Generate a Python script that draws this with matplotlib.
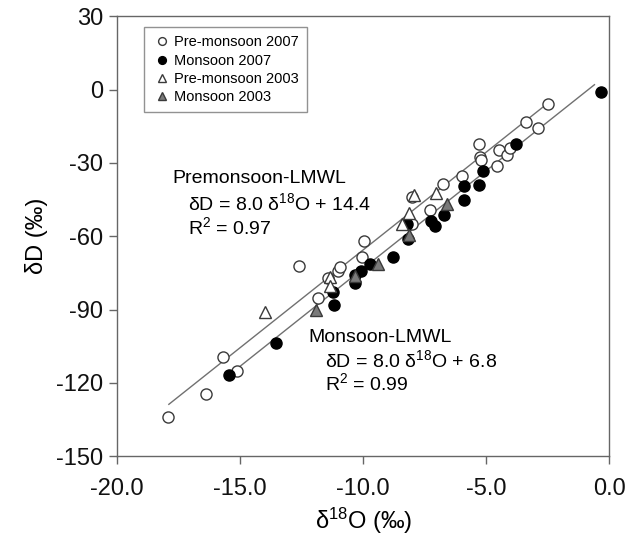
import matplotlib
matplotlib.use("Agg")
import matplotlib.pyplot as plt
import numpy as np

plt.rcParams['font.family'] = ['Liberation Sans', 'DejaVu Sans']
plt.rcParams['axes.unicode_minus'] = False

# Pre-monsoon 2007 (open circles)
pre07_x = [-17.94, -16.38, -15.68, -15.11, -12.60, -11.82, -11.44, -11.04, -10.93, -10.04,
           -9.95, -8.02, -8.02, -7.30, -6.76, -5.99, -5.28, -5.27, -5.22, -4.57,
           -4.47, -4.16, -4.02, -3.37, -2.91, -2.48]
pre07_y = [-134.0, -124.4, -109.4, -115.1, -72.2, -85.3, -77.1, -74.2, -72.8, -68.7,
           -62.1, -55.1, -43.9, -49.4, -38.7, -35.5, -22.4, -27.6, -28.9, -31.4,
           -24.8, -26.9, -24.1, -13.2, -15.7, -5.7]

# Monsoon 2007 (filled circles)
mon07_x = [-15.45, -13.54, -11.23, -11.20, -10.33, -10.33, -10.09, -9.72, -8.79, -8.16,
           -8.22, -7.25, -7.07, -6.71, -5.92, -5.92, -5.31, -5.15, -3.78, -0.35]
mon07_y = [-117.0, -103.7, -82.8, -88.2, -76.0, -79.1, -74.2, -71.2, -68.7, -61.0,
           -55.1, -53.8, -55.9, -51.5, -45.0, -39.5, -38.9, -33.3, -22.4, -1.0]

# Pre-monsoon 2003 (open triangles)
pre03_x = [-14.01, -11.34, -11.34, -8.43, -8.12, -7.95, -7.03]
pre03_y = [-91.0, -76.6, -80.5, -55.1, -50.3, -43.0, -42.2]

# Monsoon 2003 (grey triangles)
mon03_x = [-11.91, -10.33, -9.38, -8.12, -6.60]
mon03_y = [-90.0, -76.4, -71.2, -59.6, -46.8]

# LMWL fits: slope, intercept, x range
pre_fit = (8.0, 14.4)
pre_range = [-17.9, -2.6]
mon_fit = (8.0, 6.8)
mon_range = [-15.6, -0.6]

fig = plt.figure(figsize=(6.3, 5.43), dpi=100)
ax = fig.add_axes([0.186, 0.160, 0.781, 0.810])

line_c = '#707070'
for (m, b), xr in [(pre_fit, pre_range), (mon_fit, mon_range)]:
    xs = np.array(xr)
    ax.plot(xs, m * xs + b, color=line_c, lw=1.0, zorder=1)

edge = '#3a3a3a'
ms = 8
ax.plot(pre07_x, pre07_y, 'o', ms=ms, mfc='white', mec=edge, mew=1.0, ls='none',
        label='Pre-monsoon 2007', zorder=3)
ax.plot(mon07_x, mon07_y, 'o', ms=ms, mfc='black', mec='black', mew=1.0, ls='none',
        label='Monsoon 2007', zorder=3)
ax.plot(pre03_x, pre03_y, '^', ms=ms, mfc='white', mec=edge, mew=1.0, ls='none',
        label='Pre-monsoon 2003', zorder=3)
ax.plot(mon03_x, mon03_y, '^', ms=ms, mfc='#7a7a7a', mec=edge, mew=1.0, ls='none',
        label='Monsoon 2003', zorder=3)

ax.set_xlim(-20, 0)
ax.set_ylim(-150, 30)
ax.set_xticks([-20, -15, -10, -5, 0])
ax.set_xticklabels(['-20.0', '-15.0', '-10.0', '-5.0', '0.0'])
ax.set_yticks([-150, -120, -90, -60, -30, 0, 30])

for s in ax.spines.values():
    s.set_color('#666666')
    s.set_linewidth(1.0)
ax.tick_params(direction='out', length=6, width=1, color='#666666',
               labelsize=17, labelcolor='#111111', pad=4)
ax.tick_params(axis='x', pad=10)

ax.set_ylabel('δD (‰)', fontsize=17, labelpad=6)
ax.set_xlabel(r'δ$\mathregular{^{18}}$O (‰)', fontsize=17, labelpad=4)

leg = ax.legend(loc='upper left', bbox_to_anchor=(0.045, 0.985), fontsize=10.5,
                frameon=True, fancybox=False, handlelength=1.4, handletextpad=0.15,
                markerscale=0.7, borderpad=0.55, labelspacing=0.3, borderaxespad=0.3)
leg.get_frame().set_edgecolor('#777777')
leg.get_frame().set_linewidth(1.0)

fs = 14
ax.text(-17.76, -36.3, 'Premonsoon-LMWL', fontsize=fs, va='center', ha='left')
ax.text(-17.11, -46.5, r'δD = 8.0 δ$\mathregular{^{18}}$O + 14.4', fontsize=fs, va='center', ha='left')
ax.text(-17.11, -56.3, r'R$\mathregular{^{2}}$ = 0.97', fontsize=fs, va='center', ha='left')
ax.text(-12.24, -101.3, 'Monsoon-LMWL', fontsize=fs, va='center', ha='left')
ax.text(-11.54, -110.8, r'δD = 8.0 δ$\mathregular{^{18}}$O + 6.8', fontsize=fs, va='center', ha='left')
ax.text(-11.54, -120.2, r'R$\mathregular{^{2}}$ = 0.99', fontsize=fs, va='center', ha='left')

fig.savefig('out.png', dpi=100)
